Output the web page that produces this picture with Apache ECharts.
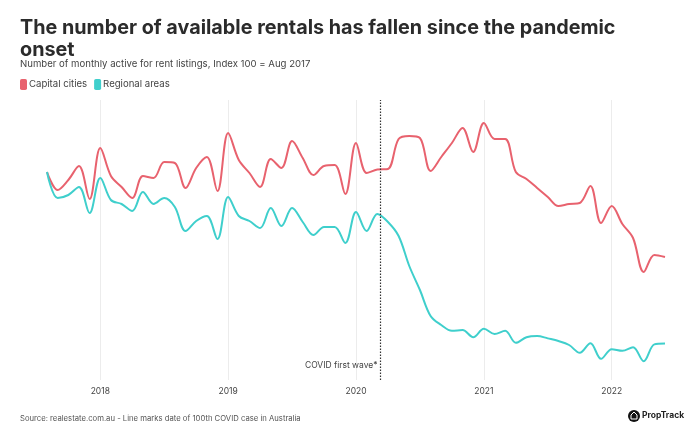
<!DOCTYPE html>
<html>
<head>
<meta charset="utf-8">
<script src="https://cdn.jsdelivr.net/npm/echarts@6/dist/echarts.min.js"></script>
<style>
html,body{margin:0;padding:0;background:#fff;}
#chart{width:686px;height:442px;}
</style>
</head>
<body>
<div id="chart"></div>
<script>
// Months, Aug 2017 .. Jun 2022
const categories = [
  '2017-08','2017-09','2017-10','2017-11','2017-12',
  '2018-01','2018-02','2018-03','2018-04','2018-05','2018-06','2018-07','2018-08','2018-09','2018-10','2018-11','2018-12',
  '2019-01','2019-02','2019-03','2019-04','2019-05','2019-06','2019-07','2019-08','2019-09','2019-10','2019-11','2019-12',
  '2020-01','2020-02','2020-03','2020-04','2020-05','2020-06','2020-07','2020-08','2020-09','2020-10','2020-11','2020-12',
  '2021-01','2021-02','2021-03','2021-04','2021-05','2021-06','2021-07','2021-08','2021-09','2021-10','2021-11','2021-12',
  '2022-01','2022-02','2022-03','2022-04','2022-05','2022-06'
];
const capitalCities = [
  100, 95.5, 98, 101.5, 93.25,
  106, 99, 96.25, 93.5, 99, 98.5, 102.5, 102.25, 96, 101, 103.75, 95.25,
  109.75, 103, 99.75, 96.25, 103.25, 101, 107.75, 103.5, 99.25, 101.5, 101.75, 94.5,
  107.25, 99.75, 100.6, 100.75, 108.25, 109, 108.5, 100.25, 103.75, 107.25, 111, 105,
  112.25, 108.25, 108.25, 100, 98.25, 96, 93.75, 91.5, 92, 92.25, 96.5, 87.25,
  91.5, 87, 83.5, 75, 79.25, 78.75
];
const regionalAreas = [
  100, 93.5, 94.25, 96.25, 89.75,
  98.5, 93, 92, 90.25, 95, 92, 93.5, 91.25, 85.25, 87.75, 89, 83.25,
  93.75, 89, 87.75, 86, 91, 86.5, 91, 87.5, 84.25, 86.25, 86.25, 82.25,
  90, 85.25, 89.5, 87.5, 84, 76.5, 70.5, 64, 61.75, 60.3, 60.5, 58.7,
  60.8, 59.5, 60.3, 57.3, 58.7, 59, 58.4, 57.75, 56.75, 54.8, 57.2, 53.3,
  55.7, 55.3, 56.2, 52.7, 56.9, 57.1
];
const seriesNames = ['Capital cities', 'Regional areas'];
const covidIndex = 31.3;      // ~10 Mar 2020 (100th COVID case), in months since Aug 2017
const covidLabelValue = 51.75;
const covidLabel = 'COVID first wave*';

const titleText = 'The number of available rentals has fallen since the pandemic\nonset';
const subtitleText = 'Number of monthly active for rent listings, Index 100 = Aug 2017';
const sourceText = 'Source: realestate.com.au - Line marks date of 100th COVID case in Australia';

const Y_MIN = 48, Y_MAX = 118;
const RED = '#E8626E';
const TEAL = '#3FCFCC';
const FONT = 'Inter, "Open Sans", sans-serif';

const chart = echarts.init(document.getElementById('chart'), null, {renderer: 'canvas'});
const isJan = (idx, val) => String(val).endsWith('-01');

chart.setOption({
  animation: false,
  backgroundColor: '#fff',
  textStyle: {fontFamily: FONT},
  title: [
    {text: titleText, left: 15, top: 12,
     textStyle: {fontFamily: FONT, fontSize: 19.8, fontWeight: 'bold', color: '#2b2b2b', lineHeight: 22}},
    {text: subtitleText, left: 15, top: 54,
     textStyle: {fontFamily: FONT, fontSize: 9.6, fontWeight: 'normal', color: '#444'}},
    {text: sourceText, left: 15, top: 410,
     textStyle: {fontFamily: FONT, fontSize: 7.7, fontWeight: 'normal', color: '#555'}}
  ],
  legend: {
    left: 15, top: 74,
    icon: 'roundRect', itemWidth: 7, itemHeight: 11, itemGap: 7,
    textStyle: {fontFamily: FONT, fontSize: 9.6, color: '#444', padding: [0,0,0,-3]},
    data: seriesNames
  },
  grid: {left: 47, right: 21, top: 100, bottom: 62, containLabel: false},
  xAxis: [{
    type: 'category', data: categories, boundaryGap: false,
    axisLine: {show: false}, axisTick: {show: false},
    axisLabel: {interval: isJan, formatter: v => v.slice(0,4), fontFamily: FONT, fontSize: 8.5, color: '#444', margin: 7},
    splitLine: {show: true, interval: isJan, lineStyle: {color: '#ececec', width: 1}}
  }, {
    type: 'value', min: 0, max: categories.length - 1, show: false
  }],
  yAxis: {
    type: 'value', min: Y_MIN, max: Y_MAX,
    axisLine: {show: false}, axisTick: {show: false}, axisLabel: {show: false}, splitLine: {show: false}
  },
  series: [
    {name: seriesNames[0], type: 'line', data: capitalCities, smooth: 0.35, symbol: 'none',
     lineStyle: {color: RED, width: 2}, itemStyle: {color: RED}, z: 3},
    {name: seriesNames[1], type: 'line', data: regionalAreas, smooth: 0.35, symbol: 'none',
     lineStyle: {color: TEAL, width: 2}, itemStyle: {color: TEAL}, z: 3},
    {name: 'covid', type: 'line', xAxisIndex: 1, symbol: 'none', silent: true, z: 4,
     data: [[covidIndex, Y_MIN], [covidIndex, Y_MAX]],
     lineStyle: {type: [1.5, 1.5], color: '#333', width: 1.2},
     markPoint: {
       silent: true, symbol: 'circle', symbolSize: 0,
       data: [{coord: [covidIndex, covidLabelValue], value: covidLabel,
         label: {show: true, position: 'left', distance: 3, formatter: covidLabel,
                 fontFamily: FONT, fontSize: 8.5, color: '#444'}}]
     }}
  ],
  graphic: [
    {type: 'circle', shape: {cx: 634, cy: 416, r: 6}, style: {fill: '#111'}},
    {type: 'polygon', shape: {points: [[631,419],[631,415],[634,412],[637,415],[637,419]]},
     style: {fill: 'none', stroke: '#fff', lineWidth: 1}},
    {type: 'text', left: 642, top: 411,
     style: {text: 'PropTrack', fontFamily: FONT, fontSize: 8.5, fontWeight: 'bold', fill: '#222'}}
  ]
});
</script>
</body>
</html>
